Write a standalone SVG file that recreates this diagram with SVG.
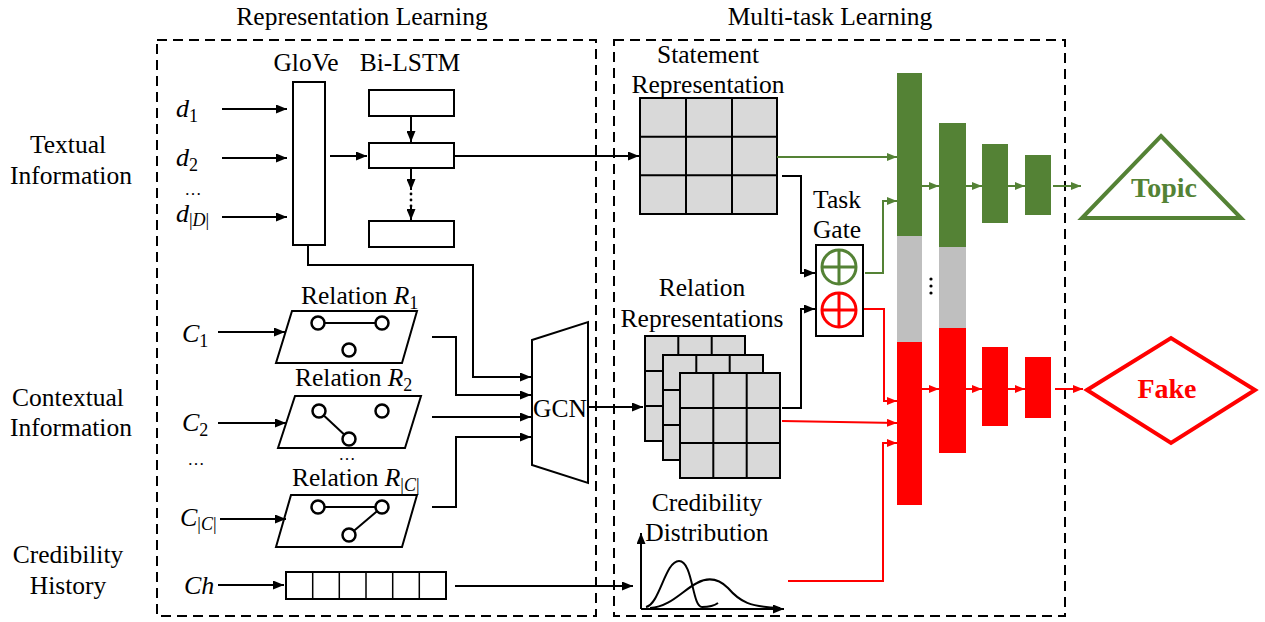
<svg xmlns="http://www.w3.org/2000/svg" width="1265" height="622" viewBox="0 0 1265 622">
  <defs>
    <style>
      .t { font-family: "Liberation Serif", "Times New Roman", serif; font-size: 25.5px; fill: #000; }
      .m { font-family: "Liberation Serif", "Times New Roman", serif; font-style: italic; font-size: 26px; fill: #000; }
      .dots { font-family: "Liberation Serif", "Times New Roman", serif; font-size: 17px; fill: #000; }
      .sub { font-size: 18px; font-style: normal; }
      .subi { font-size: 18px; font-style: italic; }
      .box { fill: none; stroke: #000; stroke-width: 2; stroke-dasharray: 10 6; }
      .shape { fill: #fff; stroke: #000; stroke-width: 2; }
      .blk { fill: none; stroke: #000; stroke-width: 2; }
      .grn { fill: none; stroke: #548235; stroke-width: 2; }
      .red { fill: none; stroke: #FF0000; stroke-width: 2; }
      .node { fill: #fff; stroke: #000; stroke-width: 2.5; }
    </style>
    <marker id="ab" markerUnits="userSpaceOnUse" markerWidth="11" markerHeight="9" refX="11" refY="4.5" orient="auto">
      <path d="M0,0 L11,4.5 L0,9 z" fill="#000"/>
    </marker>
    <marker id="ag" markerUnits="userSpaceOnUse" markerWidth="10" markerHeight="8" refX="10" refY="4" orient="auto">
      <path d="M0,0 L10,4 L0,8 z" fill="#548235"/>
    </marker>
    <marker id="ar" markerUnits="userSpaceOnUse" markerWidth="10" markerHeight="8" refX="10" refY="4" orient="auto">
      <path d="M0,0 L10,4 L0,8 z" fill="#FF0000"/>
    </marker>
    <g id="grid3">
      <rect x="0" y="0" width="100" height="105" fill="#D9D9D9" stroke="#000" stroke-width="2"/>
      <path d="M33.3,0 V105 M66.7,0 V105 M0,35 H100 M0,70 H100" stroke="#000" stroke-width="2"/>
    </g>
  </defs>

  <!-- section frames and titles -->
  <g id="frames">
    <rect class="box" x="157" y="40" width="439" height="576"/>
    <rect class="box" x="614" y="40" width="451" height="576"/>
    <text class="t" x="362" y="25" text-anchor="middle">Representation Learning</text>
    <text class="t" x="830" y="25" text-anchor="middle">Multi-task Learning</text>
  </g>

  <!-- input category labels -->
  <g id="labels">
    <text class="t" x="68" y="153" text-anchor="middle">Textual</text>
    <text class="t" x="71" y="184" text-anchor="middle">Information</text>
    <text class="t" x="68" y="406" text-anchor="middle">Contextual</text>
    <text class="t" x="71" y="436" text-anchor="middle">Information</text>
    <text class="t" x="68" y="563" text-anchor="middle">Credibility</text>
    <text class="t" x="68" y="594" text-anchor="middle">History</text>
  </g>

  <!-- textual inputs -->
  <g id="inputs-d">
    <text class="m" x="176" y="117">d<tspan class="sub" dy="5">1</tspan></text>
    <text class="m" x="176" y="166">d<tspan class="sub" dy="5">2</tspan></text>
    <text class="dots" x="193" y="195" text-anchor="middle">…</text>
    <text class="m" x="176" y="222">d<tspan class="sub" dy="4">|</tspan><tspan class="subi">D</tspan><tspan class="sub">|</tspan></text>
  </g>

  <g id="glove">
    <text class="t" x="306" y="71" text-anchor="middle">GloVe</text>
    <rect class="shape" x="293" y="82" width="32" height="163"/>
  </g>

  <g id="bilstm">
    <text class="t" x="410" y="71" text-anchor="middle">Bi-LSTM</text>
    <rect class="shape" x="369" y="90" width="85" height="26"/>
    <rect class="shape" x="369" y="143" width="85" height="25"/>
    <rect class="shape" x="369" y="221" width="85" height="26"/>
    <circle cx="411" cy="194" r="1.4"/>
    <circle cx="411" cy="200" r="1.4"/>
    <circle cx="411" cy="206" r="1.4"/>
  </g>

  <!-- contextual inputs -->
  <g id="inputs-c">
    <text class="m" x="182" y="342">C<tspan class="sub" dy="5">1</tspan></text>
    <text class="m" x="182" y="431">C<tspan class="sub" dy="5">2</tspan></text>
    <text class="dots" x="196" y="465" text-anchor="middle">…</text>
    <text class="m" x="180" y="526">C<tspan class="sub" dy="4">|</tspan><tspan class="subi">C</tspan><tspan class="sub">|</tspan></text>
    <text class="m" x="184" y="594">Ch</text>
  </g>

  <g id="relation-1">
    <text class="t" x="301" y="304">Relation <tspan font-style="italic">R</tspan><tspan class="sub" dy="5">1</tspan></text>
    <polygon class="shape" points="292,311 417,311 402,363 276,363"/>
    <line x1="318" y1="323" x2="382" y2="323" stroke="#000" stroke-width="2"/>
    <circle class="node" cx="318" cy="323" r="6.5"/>
    <circle class="node" cx="382" cy="323" r="6.5"/>
    <circle class="node" cx="349" cy="350" r="6.5"/>
  </g>

  <g id="relation-2">
    <text class="t" x="295" y="386">Relation <tspan font-style="italic">R</tspan><tspan class="sub" dy="5">2</tspan></text>
    <polygon class="shape" points="295,396 421,396 405,448 278,448"/>
    <line x1="319" y1="411" x2="349" y2="439" stroke="#000" stroke-width="2"/>
    <circle class="node" cx="319" cy="411" r="6.5"/>
    <circle class="node" cx="382" cy="411" r="6.5"/>
    <circle class="node" cx="349" cy="439" r="6.5"/>
  </g>

  <text class="dots" x="347" y="460" text-anchor="middle">…</text>

  <g id="relation-c">
    <text class="t" x="292" y="486">Relation <tspan font-style="italic">R</tspan><tspan class="sub" dy="5">|</tspan><tspan class="subi">C</tspan><tspan class="sub">|</tspan></text>
    <polygon class="shape" points="291,495 417,495 402,547 276,547"/>
    <path d="M318,507 H382 L349,535" fill="none" stroke="#000" stroke-width="2"/>
    <circle class="node" cx="318" cy="507" r="6.5"/>
    <circle class="node" cx="382" cy="507" r="6.5"/>
    <circle class="node" cx="349" cy="535" r="6.5"/>
  </g>

  <g id="history">
    <rect class="shape" x="286" y="572" width="160" height="27"/>
    <path d="M312.7,572 V599 M339.3,572 V599 M366,572 V599 M392.7,572 V599 M419.3,572 V599" stroke="#000" stroke-width="1.5"/>
  </g>

  <g id="gcn">
    <polygon class="shape" points="532,340 588,322 588,483 532,465"/>
    <text class="t" x="560" y="417" text-anchor="middle">GCN</text>
  </g>

  <g id="statement">
    <text class="t" x="708" y="63" text-anchor="middle">Statement</text>
    <text class="t" x="708" y="93" text-anchor="middle">Representation</text>
    <rect x="640" y="98" width="137" height="116" fill="#D9D9D9" stroke="#000" stroke-width="2"/>
    <path d="M686,98 V214 M732,98 V214 M640,136.7 H777 M640,175.3 H777" stroke="#000" stroke-width="2"/>
  </g>

  <g id="relation-reps">
    <text class="t" x="702" y="296" text-anchor="middle">Relation</text>
    <text class="t" x="702" y="327" text-anchor="middle">Representations</text>
    <use href="#grid3" x="645" y="336"/>
    <use href="#grid3" x="663" y="355"/>
    <use href="#grid3" x="680" y="373"/>
  </g>

  <g id="credibility">
    <text class="t" x="707" y="511" text-anchor="middle">Credibility</text>
    <text class="t" x="707" y="541" text-anchor="middle">Distribution</text>
    <path d="M641,609 V533" class="blk" marker-end="url(#ab)"/>
    <path d="M641,609 H784" class="blk" marker-end="url(#ab)"/>
    <path d="M646,607 C660,604 665,561 679,561 C693,561 692,607 702,607 C708,607 714,606 718,603" class="blk"/>
    <path d="M650,608 C670,607 683,590 697,583 C708,577 718,578 728,588 C740,602 750,607 780,608" class="blk"/>
  </g>

  <g id="task-gate">
    <text class="t" x="837" y="208" text-anchor="middle">Task</text>
    <text class="t" x="837" y="238" text-anchor="middle">Gate</text>
    <rect class="shape" x="816" y="245" width="47" height="91"/>
    <circle cx="839" cy="267" r="17" fill="none" stroke="#548235" stroke-width="3"/>
    <path d="M822,267 H856 M839,250 V284" stroke="#548235" stroke-width="3"/>
    <circle cx="839" cy="310" r="17" fill="none" stroke="#FF0000" stroke-width="3"/>
    <path d="M822,310 H856 M839,293 V327" stroke="#FF0000" stroke-width="3"/>
  </g>

  <g id="topic-tower">
    <rect x="897" y="73" width="25" height="163" fill="#548235"/>
    <rect x="939" y="123" width="27" height="124" fill="#548235"/>
    <rect x="982" y="144" width="26" height="79" fill="#548235"/>
    <rect x="1025" y="155" width="26" height="60" fill="#548235"/>
  </g>

  <g id="shared-layers">
    <rect x="897" y="236" width="25" height="106" fill="#BFBFBF"/>
    <rect x="939" y="247" width="27" height="81" fill="#BFBFBF"/>
    <circle cx="931" cy="279" r="1.6"/>
    <circle cx="931" cy="286" r="1.6"/>
    <circle cx="931" cy="293" r="1.6"/>
  </g>

  <g id="fake-tower">
    <rect x="897" y="342" width="25" height="163" fill="#FF0000"/>
    <rect x="939" y="328" width="27" height="125" fill="#FF0000"/>
    <rect x="982" y="347" width="26" height="79" fill="#FF0000"/>
    <rect x="1025" y="357" width="26" height="61" fill="#FF0000"/>
  </g>

  <g id="topic">
    <polygon points="1161,136 1241,218 1082,218" fill="#fff" stroke="#548235" stroke-width="4" stroke-linejoin="miter"/>
    <text x="1164" y="197" text-anchor="middle" font-family="Liberation Serif, Times New Roman, serif" font-weight="bold" font-size="28" fill="#548235">Topic</text>
  </g>

  <g id="fake">
    <polygon points="1087,390 1171,338 1255,390 1171,443" fill="#fff" stroke="#FF0000" stroke-width="4"/>
    <text x="1167" y="398" text-anchor="middle" font-family="Liberation Serif, Times New Roman, serif" font-weight="bold" font-size="28" fill="#FF0000">Fake</text>
  </g>

  <!-- connectors -->
  <g id="connectors">
    <path class="blk" d="M222,109 H287" marker-end="url(#ab)"/>
    <path class="blk" d="M222,158 H287" marker-end="url(#ab)"/>
    <path class="blk" d="M222,217 H287" marker-end="url(#ab)"/>
    <path class="blk" d="M330,156 H367" marker-end="url(#ab)"/>
    <path class="blk" d="M411,116 V142" marker-end="url(#ab)"/>
    <path class="blk" d="M411,168 V190" marker-end="url(#ab)"/>
    <path class="blk" d="M411,205 V220" marker-end="url(#ab)"/>
    <path class="blk" d="M454,156 H639" marker-end="url(#ab)"/>
    <path class="blk" d="M308,245 V265 H473 V377 H531" marker-end="url(#ab)"/>

    <path class="blk" d="M218,332 H285" marker-end="url(#ab)"/>
    <path class="blk" d="M218,423 H286" marker-end="url(#ab)"/>
    <path class="blk" d="M220,519 H286" marker-end="url(#ab)"/>
    <path class="blk" d="M218,585 H284" marker-end="url(#ab)"/>
    <path class="blk" d="M432,337 H456 V395 H531" marker-end="url(#ab)"/>
    <path class="blk" d="M432,417 H531" marker-end="url(#ab)"/>
    <path class="blk" d="M432,507 H456 V437 H531" marker-end="url(#ab)"/>
    <path class="blk" d="M588,407 H643" marker-end="url(#ab)"/>
    <path class="blk" d="M455,586 H633" marker-end="url(#ab)"/>

    <path class="blk" d="M782,176 H801 V273 H815" marker-end="url(#ab)"/>
    <path class="blk" d="M782,408 H801 V309 H815" marker-end="url(#ab)"/>

    <path class="grn" d="M777,157 H897" marker-end="url(#ag)"/>
    <path class="grn" d="M865,273 H883 V201 H897" marker-end="url(#ag)"/>
    <path class="grn" d="M922,186 H939" marker-end="url(#ag)"/>
    <path class="grn" d="M966,186 H982" marker-end="url(#ag)"/>
    <path class="grn" d="M1008,186 H1025" marker-end="url(#ag)"/>
    <path class="grn" d="M1053,186 H1081" marker-end="url(#ag)"/>

    <path class="red" d="M864,309 H884 V401 H897" marker-end="url(#ar)"/>
    <path class="red" d="M782,421 L897,423" marker-end="url(#ar)"/>
    <path class="red" d="M788,581 H883 V443 H897" marker-end="url(#ar)"/>
    <path class="red" d="M922,389 H939" marker-end="url(#ar)"/>
    <path class="red" d="M966,389 H982" marker-end="url(#ar)"/>
    <path class="red" d="M1008,389 H1025" marker-end="url(#ar)"/>
    <path class="red" d="M1055,389 H1083" marker-end="url(#ar)"/>
  </g>
</svg>
